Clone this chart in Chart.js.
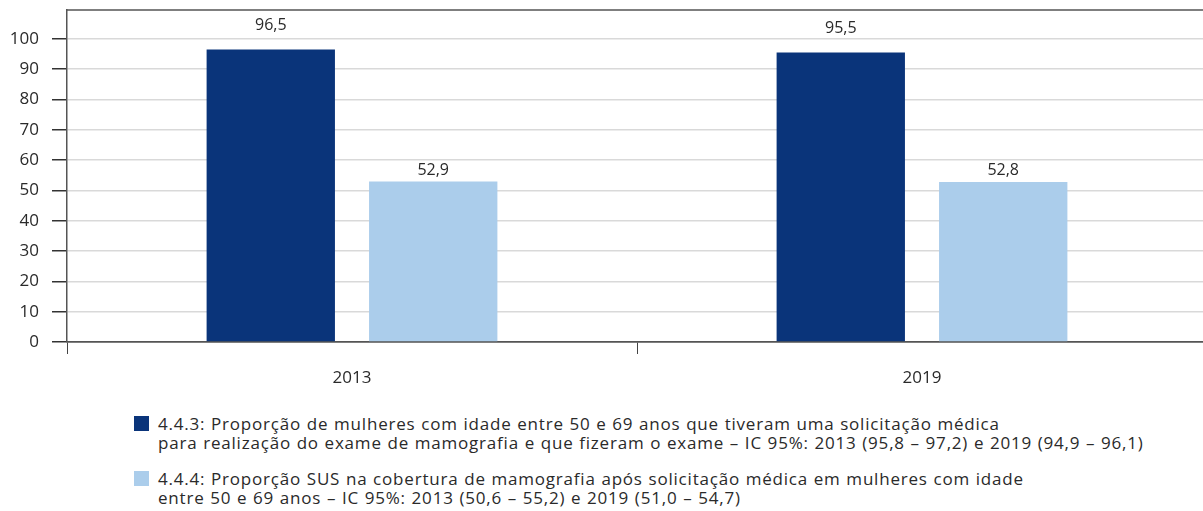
<!DOCTYPE html>
<html>
<head>
<meta charset="utf-8">
<script src="https://cdn.jsdelivr.net/npm/chart.js@4/dist/chart.umd.min.js"></script>
<style>
  html, body { margin: 0; padding: 0; background: #fff; overflow: hidden; }
  #wrap { position: absolute; left: 0; top: 0; width: 1210px; height: 395px; }
  .legend { position: absolute; left: 134px; font-family: "Open Sans", sans-serif; font-size: 17px; letter-spacing: 0.8px; word-spacing: 0.5px; color: #2a2a2a; line-height: 19px; white-space: nowrap; }
  .legend .item { position: relative; padding-left: 24px; }
  .legend .box { position: absolute; left: 0; top: 2px; width: 15px; height: 15px; }
</style>
</head>
<body>
<div id="wrap"><canvas id="chart"></canvas></div>
<div class="legend" style="top: 414px;">
  <div class="item"><span class="box" style="background:#0a347a"></span>4.4.3: Proporção de mulheres com idade entre 50 e 69 anos que tiveram uma solicitação médica<br>para realização do exame de mamografia e que fizeram o exame – IC 95%: 2013 (95,8 – 97,2) e 2019 (94,9 – 96,1)</div>
</div>
<div class="legend" style="top: 469px;">
  <div class="item"><span class="box" style="background:#abcdeb"></span>4.4.4: Proporção SUS na cobertura de mamografia após solicitação médica em mulheres com idade<br>entre 50 e 69 anos – IC 95%: 2013 (50,6 – 55,2) e 2019 (51,0 – 54,7)</div>
</div>
<script>
const categories = ["2013", "2019"]
const seriesNames = ["4.4.3", "4.4.4"]
const solicitacao = [96.5, 95.5]
const sus = [52.9, 52.8]
const yTicks = [0, 10, 20, 30, 40, 50, 60, 70, 80, 90, 100]

const fmt = v => v.toFixed(1).replace(".", ",")
// label gap above the bar, per dataset (as in the original layout)
const labelGap = [24, 11]

const valueLabels = {
  id: "valueLabels",
  afterDatasetsDraw(chart) {
    const ctx = chart.ctx
    ctx.save()
    ctx.font = "16px 'Open Sans', sans-serif"
    ctx.fillStyle = "#2a2a2a"
    ctx.textAlign = "center"
    ctx.textBaseline = "middle"
    chart.data.datasets.forEach((ds, i) => {
      chart.getDatasetMeta(i).data.forEach((bar, j) => {
        ctx.fillText(fmt(ds.data[j]), bar.x, bar.y - labelGap[i])
      })
    })
    ctx.restore()
  }
}

const topLine = {
  id: "topLine",
  afterDraw(chart) {
    const { ctx, chartArea } = chart
    ctx.save()
    ctx.strokeStyle = "#555"
    ctx.lineWidth = 1.5
    ctx.beginPath()
    ctx.moveTo(chartArea.left, chartArea.top)
    ctx.lineTo(chartArea.right, chartArea.top)
    ctx.stroke()
    ctx.restore()
  }
}

new Chart(document.getElementById("chart"), {
  type: "bar",
  data: {
    labels: categories,
    datasets: [
      { label: seriesNames[0], data: solicitacao, backgroundColor: "#0a347a" },
      { label: seriesNames[1], data: sus, backgroundColor: "#abcdeb" }
    ]
  },
  options: {
    responsive: true,
    maintainAspectRatio: false,
    animation: false,
    categoryPercentage: 0.57,
    barPercentage: 0.79,
    layout: { padding: { top: 10, right: 3, left: 0, bottom: 0 } },
    plugins: { legend: { display: false }, tooltip: { enabled: false } },
    scales: {
      x: {
        grid: { display: true, drawOnChartArea: false, drawTicks: true, tickLength: 12, color: "#444", offset: true },
        border: { color: "#555", width: 1.5 },
        ticks: { color: "#2a2a2a", font: { family: "'Open Sans', sans-serif", size: 17 }, padding: 14 },
        afterFit(scale) { scale.height = 53; scale.paddingLeft = 0; scale.paddingRight = 0 }
      },
      y: {
        min: 0,
        max: 109.5,
        afterBuildTicks(scale) { scale.ticks = yTicks.map(v => ({ value: v })) },
        grid: {
          color: ctx => ctx.tick && ctx.tick.value === 0 ? "#555" : "#d9d9d9",
          lineWidth: 1.5,
          tickColor: "#333",
          tickLength: 15
        },
        border: { color: "#555", width: 1.5 },
        ticks: { color: "#2a2a2a", font: { family: "'Open Sans', sans-serif", size: 17 }, padding: 13 },
        afterFit(scale) { scale.width = 67; scale.paddingTop = 0; scale.paddingBottom = 0 }
      }
    }
  },
  plugins: [valueLabels, topLine]
})
</script>
</body>
</html>
